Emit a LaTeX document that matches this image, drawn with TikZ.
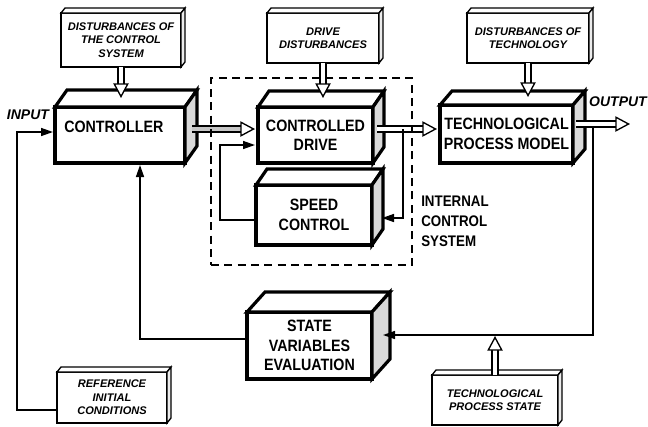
\documentclass[tikz,border=0pt]{standalone}
\usepackage{fontspec}
\setmainfont{Liberation Sans}
\newfontfamily\narrowfont[FakeStretch=0.87]{Liberation Sans}
\usetikzlibrary{arrows.meta,calc}
\tikzset{
 cubemain/.style={draw, line width=2.4pt, fill=white, inner sep=0pt, outer sep=0pt, align=center, font=\narrowfont\bfseries\fontsize{12.3}{14.5}\selectfont},
 maintext/.style={inner sep=0pt, font=\narrowfont\bfseries\fontsize{12.3}{14.5}\selectfont},
 cubesmall/.style={draw, line width=1pt, fill=white, inner sep=0pt, outer sep=0pt, align=center, font=\bfseries\itshape\fontsize{8.3}{10}\selectfont},
 conn/.style={line width=1.1pt, -{Triangle[length=9pt,width=6pt]}},
 hollow/.style={line width=1pt, double=white, double distance=3.3pt, -{Triangle[fill=white, line width=1pt, length=11pt, width=11.5pt]}},
 lbl/.style={inner sep=0pt, font=\bfseries\itshape\fontsize{10.5}{12}\selectfont},
 sidetext/.style={inner sep=0pt, align=left, font=\narrowfont\bfseries\fontsize{11.5}{15}\selectfont},
 dashbox/.style={draw, line width=1.1pt, dash pattern=on 6pt off 4pt, inner sep=0pt, outer sep=0pt},
}
\newcommand\cubefaces[5]{%
 \draw[line width=#4, line join=miter, fill=white] (#1.north west) -- ++(#2,-#3) -- ($(#1.north east)+(#2,-#3)$) -- (#1.north east) -- cycle;
 \draw[line width=#4, line join=miter, fill=#5] (#1.north east) -- ++(#2,-#3) -- ($(#1.south east)+(#2,-#3)$) -- (#1.south east) -- cycle;
}
\begin{document}
\begin{tikzpicture}[x=0.75pt,y=-0.75pt]
\useasboundingbox (0,0) rectangle (648,426);
% main blocks
\node[cubemain, minimum width=97.5pt, minimum height=42pt] (ctrl) at (120,135) {};
\cubefaces{ctrl}{12}{17}{2.4pt}{gray!30}
\node[maintext, anchor=west] (ctrltxt) at (64,127) {CONTROLLER};
\node[cubemain, minimum width=86.25pt, minimum height=42pt] (drive) at (315.5,135) {CONTROLLED\\DRIVE};
\cubefaces{drive}{11}{16}{2.4pt}{gray!30}
\node[cubemain, minimum width=87pt, minimum height=45pt] (speed) at (314,215) {SPEED\\CONTROL};
\cubefaces{speed}{11}{16}{2.4pt}{gray!30}
\node[cubemain, minimum width=99.75pt, minimum height=43.5pt] (tech) at (506.5,134) {TECHNOLOGICAL\\PROCESS MODEL};
\cubefaces{tech}{12}{14}{2.4pt}{gray!30}
\node[cubemain, minimum width=93.75pt, minimum height=50.25pt] (state) at (309.5,345.5) {STATE\\VARIABLES\\EVALUATION};
\cubefaces{state}{18}{20}{2.4pt}{gray!30}
% small blocks
\node[cubesmall, minimum width=90pt, minimum height=40.5pt] (dcs) at (121,40) {DISTURBANCES OF\\THE CONTROL\\SYSTEM};
\cubefaces{dcs}{4}{5}{1pt}{gray!15}
\node[cubesmall, minimum width=84pt, minimum height=37.5pt] (dd) at (323,38) {DRIVE\\DISTURBANCES};
\cubefaces{dd}{4}{5}{1pt}{gray!15}
\node[cubesmall, minimum width=91.5pt, minimum height=37.5pt] (dt) at (528,38) {DISTURBANCES OF\\TECHNOLOGY};
\cubefaces{dt}{4}{5}{1pt}{gray!15}
\node[cubesmall, minimum width=82.5pt, minimum height=38.25pt] (ref) at (112,397.5) {REFERENCE\\INITIAL\\CONDITIONS};
\cubefaces{ref}{4}{5}{1pt}{gray!15}
\node[cubesmall, minimum width=94.5pt, minimum height=37.5pt] (tps) at (495,400) {TECHNOLOGICAL\\PROCESS STATE};
\cubefaces{tps}{4}{5}{1pt}{gray!15}
% coordinates
\coordinate (ctrltop) at ($(ctrl.north)+(0,-9)$);
\coordinate (drivetop) at ($(drive.north)+(0,-9)$);
\coordinate (techtop) at ($(tech.north)+(0,-8)$);
\coordinate (fbline) at (0,336);
\coordinate (c2dA) at ($(ctrl.east)+(7,-6)$);
\coordinate (c2dB) at ($(drive.west)+(-3,-6)$);
\coordinate (d2tA) at ($(drive.east)+(4,-6)$);
\coordinate (d2tB) at ($(tech.west)+(-3,-5)$);
\coordinate (outA) at ($(tech.east)+(3,-10)$);
\coordinate (outB) at ($(tech.east)+(57,-10)$);
\coordinate (refout) at ($(ref.west)+(0,12.5)$);
\coordinate (inpt) at ($(ctrl.west)+(-2,-3)$);
\coordinate (stout) at ($(state.west)+(0,-6.5)$);
\coordinate (ctrlin) at ($(ctrl.south)+(20,2)$);
\coordinate (fbstart) at ($(tech.east)+(20,-10)$);
\coordinate (stin) at ($(state.east)+(11,-10.5)$);
\coordinate (intstart) at ($(drive.east)+(30,-6)$);
\coordinate (spin) at ($(speed.east)+(10,3)$);
\coordinate (spout) at ($(speed.west)+(0,5)$);
\coordinate (drin) at ($(drive.west)+(-3,10)$);
% plain connectors
\draw[conn] (refout) -- ++(-40,0) |- (inpt);
\draw[conn] (stout) -| (ctrlin);
\draw[conn] (fbstart) |- (stin);
\draw[conn] (spout) -- ++(-36,0) |- (drin);
% hollow arrows
\draw[hollow] (dcs.south) -- (dcs.south |- ctrltop);
\draw[hollow] (dd.south) -- (dd.south |- drivetop);
\draw[hollow] (dt.south) -- (dt.south |- techtop);
\draw[hollow] (tps.north) -- (tps.north |- fbline);
\draw[hollow, double=gray!45] (c2dA) -- (c2dB);
\draw[hollow] (d2tA) -- (d2tB);
\draw[hollow] (outA) -- (outB);
\draw[conn] (intstart) |- (spin);
% dashed frame
\node[dashbox, minimum width=150.75pt, minimum height=140.25pt] (ics) at (311.5,171.5) {};
% labels
\node[sidetext, anchor=west] (icstxt) at (421,221) {INTERNAL\\CONTROL\\SYSTEM};
\node[lbl] (inlbl) at (28,115) {INPUT};
\node[lbl] (outlbl) at (618,102) {OUTPUT};
\end{tikzpicture}
\end{document}
